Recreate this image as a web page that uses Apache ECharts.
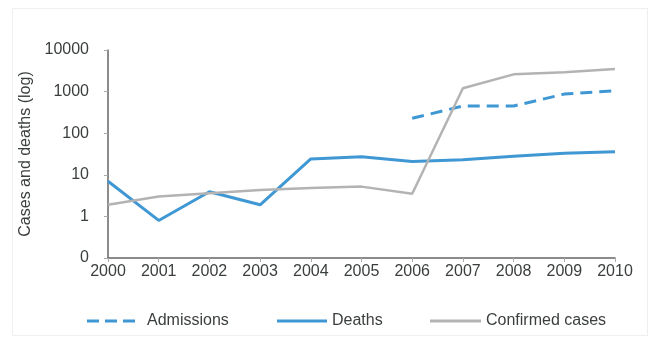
<!DOCTYPE html>
<html><head><meta charset="utf-8">
<script src="https://cdn.jsdelivr.net/npm/echarts@6/dist/echarts.min.js"></script>
<style>
html,body{margin:0;padding:0;background:#fff;}
#frame{position:absolute;left:12px;top:8px;width:636px;height:328px;border:1px solid #efefef;box-sizing:border-box;}
#c{position:absolute;left:0;top:0;width:653px;height:340px;}
</style></head>
<body>
<div id="frame"></div>
<div id="c"></div>
<script>
const years = ['2000','2001','2002','2003','2004','2005','2006','2007','2008','2009','2010'];
const admissions = [null,null,null,null,null,null,228,450,450,870,1050];
const deaths = [7,0.8,3.9,1.9,24,27,21,23,28,33,36];
const confirmed = [1.9,3.0,3.6,4.3,4.8,5.2,3.5,1200,2600,2900,3500];
const yAxisName = 'Cases and deaths (log)';

const FONT = '"Liberation Sans",Arial,sans-serif';
const BLUE = '#3f97d3';
const GRAY = '#b3b3b3';
const TXT = '#3a3f3c';

function legendAt(left, name, icon, color, w, padLeft){
  return {
    top:313, left:left, padding:0, itemWidth:w, itemHeight:3,
    textStyle:{fontFamily:FONT, fontSize:16, color:TXT, padding:[0,0,0,padLeft]},
    data:[{name:name, icon:icon, itemStyle:{color:color}}]
  };
}

const chart = echarts.init(document.getElementById('c'), null, {renderer:'canvas'});
chart.setOption({
  animation:false,
  grid:{left:108, right:38, top:50, bottom:82, containLabel:false},
  legend:[
    legendAt(87, 'Admissions', 'path://M0,0h12v3h-12z M18,0h12v3h-12z M36,0h12v3h-12z', BLUE, 48, 7),
    legendAt(277, 'Deaths', 'rect', BLUE, 50, 0),
    legendAt(430, 'Confirmed cases', 'rect', GRAY, 51, 0)
  ],
  xAxis:{
    type:'category', data:years, boundaryGap:false,
    axisLine:{lineStyle:{color:'#666', width:1.5}},
    axisTick:{show:true, inside:false, length:4, lineStyle:{color:'#aaa'}},
    axisLabel:{fontFamily:FONT, fontSize:16, color:TXT, margin:6}
  },
  yAxis:{
    type:'log', logBase:10, min:0.1, max:10000,
    name:yAxisName, nameLocation:'middle', nameGap:69, nameRotate:90,
    nameTextStyle:{fontFamily:FONT, fontSize:16, color:TXT},
    axisLine:{show:true, lineStyle:{color:'#666', width:1.5}},
    axisTick:{show:true, length:4, lineStyle:{color:'#aaa'}},
    splitLine:{show:false},
    axisLabel:{fontFamily:FONT, fontSize:16, color:TXT, margin:19,
      formatter:function(v){ return v < 0.5 ? '0' : String(Math.round(v)); }}
  },
  series:[
    {name:'Admissions', type:'line', data:admissions, symbol:'none', connectNulls:false,
      lineStyle:{color:BLUE, width:3, type:[12,7]}, itemStyle:{color:BLUE}},
    {name:'Deaths', type:'line', data:deaths, symbol:'none',
      lineStyle:{color:BLUE, width:3}, itemStyle:{color:BLUE}},
    {name:'Confirmed cases', type:'line', data:confirmed, symbol:'none',
      lineStyle:{color:GRAY, width:2.5}, itemStyle:{color:GRAY}}
  ]
});
</script>
</body></html>
